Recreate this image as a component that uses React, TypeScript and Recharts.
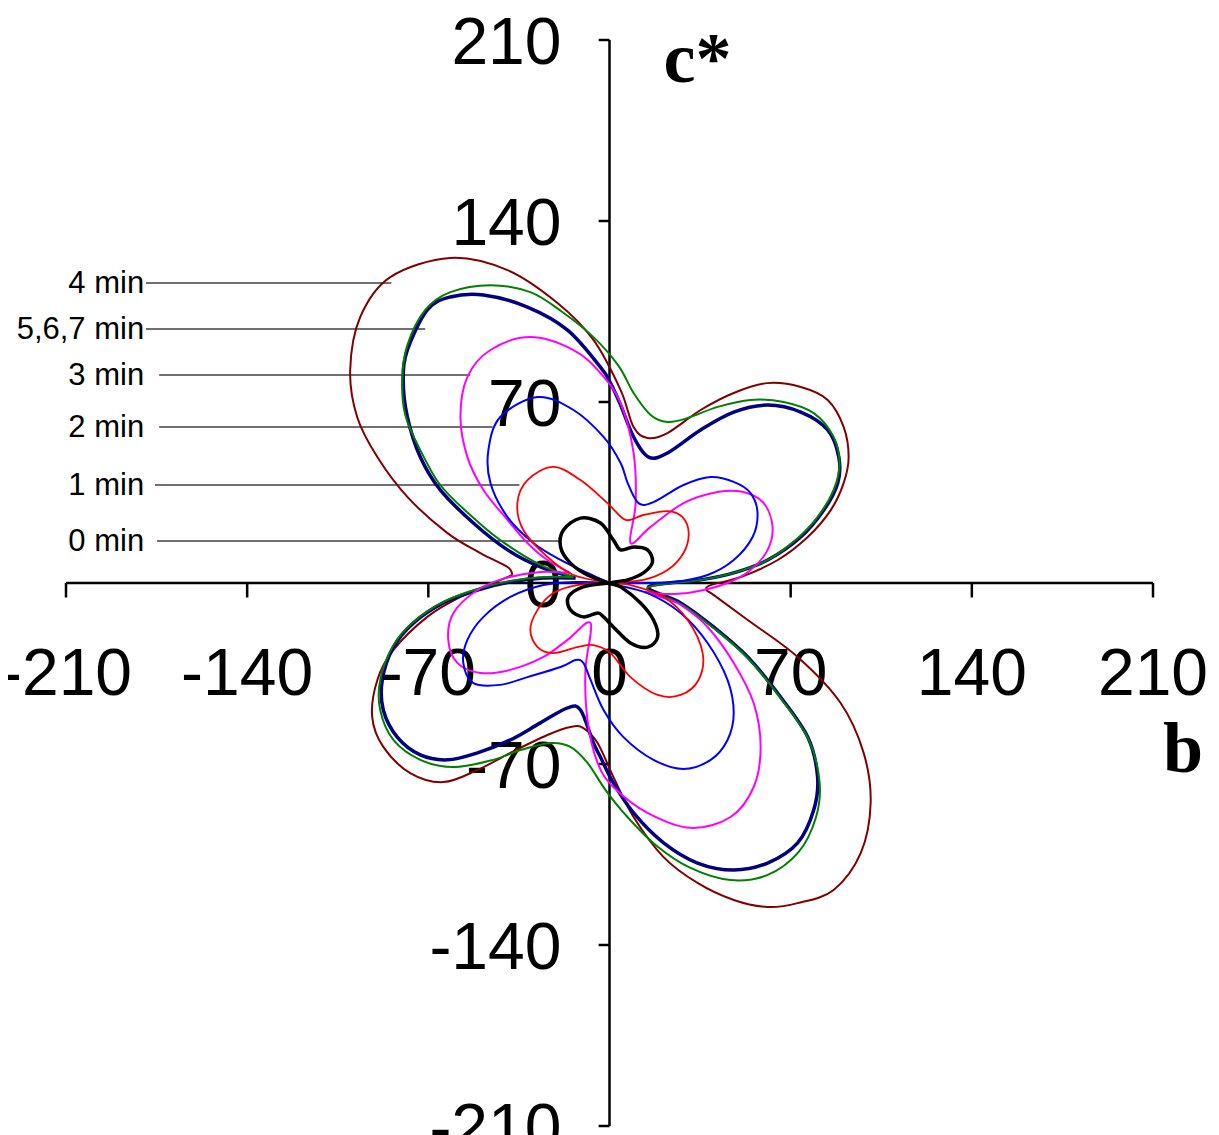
import React from 'react';
import { ScatterChart, Scatter, XAxis, YAxis, ReferenceLine, ReferenceDot } from 'recharts';

// b / c* coordinates, one closed loop per heating time
const min0: [number, number][] = [
  [0, 0], [-8.5, 3.1], [-15.1, 7.7], [-18.9, 13.9], [-17.8, 20.5], [-11.2, 25.1], [-3.5, 23.2], [1.5, 16.6],
  [4.3, 12.8], [9.3, 13.9], [14.7, 12.8], [16.6, 8.1], [13.1, 3.9], [7.0, 1.2], [0, 0],
  [4.3, -1.5], [12.0, -7.7], [17.0, -14.3], [18.6, -20.9], [14.7, -24.8], [8.1, -23.2], [1.5, -17.0],
  [-2.3, -13.1], [-4.6, -11.6], [-10.1, -13.1], [-15.1, -10.4], [-15.9, -5.4], [-10.1, -1.5], [0, 0],
];

const min1: [number, number][] = [
  [0, 0], [-13.9, 3.1], [-24.0, 10.1], [-33.3, 20.5], [-35.6, 30.9], [-31.7, 39.8], [-21.7, 44.9], [-11.2, 39.8],
  [-0.8, 30.9], [6.2, 24.4], [13.1, 26.3], [22.4, 27.8], [28.2, 25.5], [30.6, 19.3], [28.6, 11.6], [22.4, 5.0],
  [13.1, 1.2], [0, 0],
  [8.1, -0.8], [20.9, -5.4], [30.2, -14.3], [36.0, -27.1], [34.4, -37.5], [27.5, -43.3], [18.6, -43.3],
  [8.1, -36.4], [0.4, -27.1], [-6.2, -24.0], [-12.4, -24.8], [-21.7, -27.1], [-27.8, -24.8], [-30.6, -18.2],
  [-27.8, -10.4], [-21.7, -3.9], [-12.4, -0.8], [0, 0],
];

const min2: [number, number][] = [
  [0, 0], [-8.5, 3.9], [-18.9, 8.9], [-29.4, 15.5], [-39.4, 25.5], [-46.0, 38.7], [-46.8, 51.4], [-42.2, 64.2],
  [-27.8, 71.9], [-13.9, 66.9], [-2.3, 56.5], [4.3, 46.4], [7.0, 38.7], [11.2, 30.9], [17.0, 31.3], [28.6, 37.9],
  [39.1, 41.0], [48.0, 39.1], [54.5, 34.8], [57.2, 27.1], [55.3, 17.8], [48.0, 8.9], [37.9, 3.1], [24.8, 0.4],
  [9.3, 0], [0, 0],
  [14.7, -3.9], [27.5, -11.6], [37.9, -23.2], [45.6, -37.5], [48.0, -50.3], [45.6, -60.7], [39.1, -68.4],
  [28.6, -71.9], [17.0, -68.4], [5.4, -59.6], [-2.3, -49.1], [-7.3, -37.5], [-10.1, -30.9], [-13.1, -29.8],
  [-18.9, -32.5], [-31.7, -36.4], [-42.2, -39.4], [-52.6, -38.7], [-56.5, -30.9], [-54.9, -22.0], [-48.7, -13.1],
  [-38.3, -5.4], [-25.5, -0.8], [-12.4, 0.4], [0, 0],
];

const min3: [number, number][] = [
  [-15.1, 3.9], [-24.0, 8.9], [-31.7, 15.5], [-39.4, 24.4], [-48.7, 36.0], [-54.9, 48.7], [-57.6, 64.2],
  [-54.9, 79.7], [-46.0, 90.1], [-30.6, 95.1], [-13.9, 90.1], [-3.5, 81.2], [4.3, 69.6], [9.3, 50.3],
  [10.1, 30.9], [8.1, 15.5], [15.9, 21.7], [28.6, 30.9], [41.8, 35.2], [51.8, 35.2], [59.6, 30.9], [63.0, 21.7],
  [61.1, 12.8], [54.5, 5.0], [45.6, 0], [32.5, -3.5], [22.4, -4.3], [13.9, -3.5], [19.7, -5.4], [27.5, -8.5],
  [37.9, -17.0], [48.0, -30.9], [55.7, -46.4], [58.4, -63.4], [55.7, -78.9], [46.8, -90.5], [31.3, -94.7],
  [14.7, -88.9], [1.5, -78.9], [-4.6, -69.6], [-8.5, -53.0], [-9.3, -33.6], [-7.3, -15.5], [-16.2, -22.0],
  [-25.5, -28.6], [-38.3, -33.6], [-49.9, -34.8], [-58.8, -30.9], [-62.3, -22.0], [-60.3, -11.6], [-51.0, -2.7],
  [-40.2, 1.9], [-26.7, 4.3], [-15.1, 3.9],
];

const min4: [number, number][] = [
  [-37.5, 3.1], [-39.4, 6.2], [-49.9, 11.6], [-62.6, 19.3], [-78.1, 33.3], [-89.7, 48.7], [-97.5, 64.2],
  [-100.2, 82.4], [-96.3, 102.9], [-84.7, 118.3], [-61.5, 125.7], [-39.4, 121.0], [-20.1, 108.3], [-6.2, 94.0],
  [4.3, 74.6], [9.3, 60.3], [14.7, 56.1], [22.4, 58.0], [35.2, 66.9], [48.0, 73.5], [61.1, 77.3], [73.9, 75.8],
  [84.3, 70.8], [90.5, 60.3], [92.4, 48.7], [90.5, 38.7], [85.5, 28.2], [76.6, 17.8], [65.0, 8.9], [50.7, 2.3],
  [39.1, -0.8], [37.5, -2.7], [40.2, -4.6], [53.4, -14.3], [72.7, -28.6], [89.3, -46.4], [98.2, -65.7],
  [100.9, -85.1], [97.1, -104.4], [86.6, -118.7], [72.7, -123.8], [61.1, -125.3], [48.0, -122.6], [34.0, -116.0],
  [20.9, -106.0], [9.3, -90.5], [1.5, -75.0], [-4.6, -61.9], [-10.1, -56.1], [-15.1, -55.7], [-24.0, -58.8],
  [-38.3, -65.7], [-51.0, -72.3], [-64.2, -77.0], [-77.0, -73.5], [-87.4, -63.4], [-91.7, -51.8], [-89.7, -37.5],
  [-83.5, -25.9], [-70.4, -13.1], [-57.6, -5.4], [-44.9, 0], [-37.5, 3.1],
];

const min5to7Navy: [number, number][] = [
  [-13.1, 1.9], [-26.7, 6.2], [-39.4, 12.8], [-52.6, 23.2], [-65.4, 36.0], [-73.1, 48.7], [-78.1, 64.2],
  [-79.7, 78.5], [-78.1, 90.1], [-70.4, 105.6], [-61.5, 110.6], [-48.7, 111.4], [-31.7, 106.7], [-16.2, 97.8],
  [-3.5, 83.5], [0.4, 77.3], [4.3, 68.8], [9.3, 56.5], [15.1, 48.7], [22.4, 50.3], [35.2, 59.2], [48.0, 66.1],
  [61.1, 68.8], [73.9, 66.1], [84.3, 59.2], [88.6, 48.7], [88.2, 38.7], [82.8, 28.2], [73.9, 17.8], [61.1, 8.9],
  [48.0, 3.9], [35.2, 1.2], [15.1, -1.5], [27.5, -7.7], [40.2, -17.0], [53.4, -28.6], [66.1, -44.1],
  [76.6, -59.6], [80.4, -75.0], [78.9, -87.8], [72.7, -100.5], [61.1, -108.3], [48.0, -111.0], [34.0, -108.3],
  [20.9, -100.5], [9.3, -88.9], [1.5, -77.3], [-3.5, -67.3], [-6.2, -61.9], [-11.2, -49.1], [-16.2, -48.3],
  [-26.7, -54.1], [-38.3, -60.7], [-51.0, -65.7], [-62.6, -68.4], [-73.1, -66.5], [-82.0, -59.6], [-87.4, -49.1],
  [-87.8, -37.5], [-83.5, -24.8], [-75.8, -15.5], [-64.2, -7.7], [-51.0, -2.7], [-38.3, 0.4], [-25.5, 1.9],
  [-13.1, 1.9],
];

const min5to7Green: [number, number][] = [
  [-13.9, 2.3], [-26.7, 7.0], [-42.2, 16.6], [-53.8, 26.3], [-65.4, 37.9], [-73.1, 51.4], [-78.9, 65.0],
  [-80.1, 78.5], [-78.1, 92.0], [-71.2, 105.6], [-61.5, 112.5], [-46.0, 115.2], [-30.6, 112.5], [-18.5, 105.0],
  [-6.2, 95.1], [3.5, 84.0], [9.3, 73.5], [15.9, 65.0], [22.4, 62.3], [30.2, 63.8], [41.8, 68.1], [54.5, 70.8],
  [67.3, 70.0], [78.9, 65.7], [86.6, 56.5], [88.9, 46.4], [86.6, 36.0], [80.4, 25.5], [71.9, 16.6], [61.1, 8.9],
  [48.0, 3.9], [35.2, 1.2], [14.7, -1.9], [27.5, -8.1], [40.2, -17.4], [53.4, -29.0], [66.1, -44.5],
  [77.0, -60.7], [81.2, -77.3], [79.7, -90.9], [73.1, -104.0], [61.1, -112.9], [46.8, -114.9], [31.3, -110.2],
  [17.8, -101.3], [6.2, -89.7], [-1.5, -80.1], [-8.5, -69.6], [-15.1, -63.4], [-22.8, -61.9], [-34.4, -64.6],
  [-44.9, -68.4], [-60.3, -71.2], [-73.1, -68.4], [-83.5, -60.7], [-88.6, -49.1], [-88.6, -37.5], [-83.9, -24.8],
  [-75.8, -15.1], [-64.2, -7.3], [-51.0, -2.3], [-38.3, 0.8], [-25.5, 2.3], [-13.9, 2.3],
];

const axisTicks = [-210, -140, -70, 0, 70, 140, 210];

const calloutLabels = ['4 min', '5,6,7 min', '3 min', '2 min', '1 min', '0 min'];

const toPoints = (arr: [number, number][]) => arr.map(([b, c]) => ({ b, c }));

// drawn in this order, last one on top
const series = [
  { key: 'min4', data: min4, color: '#800000', width: 2 },
  { key: 'min5to7Navy', data: min5to7Navy, color: '#000080', width: 3.5 },
  { key: 'min5to7Green', data: min5to7Green, color: '#008000', width: 2 },
  { key: 'min3', data: min3, color: '#FF00FF', width: 2 },
  { key: 'min2', data: min2, color: '#0000FF', width: 2 },
  { key: 'min1', data: min1, color: '#FF0000', width: 1.8 },
  { key: 'min0', data: min0, color: '#000000', width: 3.5 },
];

// leader lines of the callouts, in chart units
const callouts = [
  { y: 116.0, from: -179.1, to: -84.3 },
  { y: 98.2, from: -179.1, to: -71.2 },
  { y: 80.4, from: -174.0, to: -53.8 },
  { y: 60.3, from: -174.0, to: -45.2 },
  { y: 37.9, from: -175.6, to: -34.8 },
  { y: 16.2, from: -174.8, to: -19.3 },
];

// Catmull-Rom through every point, so loops keep their shape
const smoothCurve = (context: any) => {
  let pts: number[][] = [];
  return {
    areaStart() {},
    areaEnd() {},
    lineStart() {
      pts = [];
    },
    point(x: number, y: number) {
      pts.push([x, y]);
    },
    lineEnd() {
      if (!pts.length) return;
      context.moveTo(pts[0][0], pts[0][1]);
      for (let i = 0; i < pts.length - 1; i++) {
        const p0 = pts[i - 1] || pts[i];
        const p1 = pts[i];
        const p2 = pts[i + 1];
        const p3 = pts[i + 2] || p2;
        context.bezierCurveTo(
          p1[0] + (p2[0] - p0[0]) / 6, p1[1] + (p2[1] - p0[1]) / 6,
          p2[0] - (p3[0] - p1[0]) / 6, p2[1] - (p3[1] - p1[1]) / 6,
          p2[0], p2[1]
        );
      }
    },
  };
};

const SANS = '"Liberation Sans", Arial, sans-serif';
const SERIF = '"Liberation Serif", "Times New Roman", serif';

const noMarker = () => <g />;

const App = () => {
  return (
    <ScatterChart width={1203} height={1127} margin={{ top: 32, right: 58, bottom: 9, left: 58 }}>
      <XAxis type="number" dataKey="b" domain={[-210, 210]} ticks={axisTicks} allowDataOverflow hide />
      <YAxis type="number" dataKey="c" domain={[-210, 210]} ticks={axisTicks} allowDataOverflow hide />

      {axisTicks.map((v) => (
        <ReferenceDot
          key={`xl${v}`}
          x={v}
          y={0}
          ifOverflow="visible"
          shape={(p: any) => (
            <text x={p.cx} y={p.cy + 112} textAnchor="middle" fontSize={66} fontFamily={SANS} fill="#000">
              {v}
            </text>
          )}
        />
      ))}
      {axisTicks.map((v) => (
        <ReferenceDot
          key={`yl${v}`}
          x={0}
          y={v}
          ifOverflow="visible"
          shape={(p: any) => (
            <text x={p.cx - 48} y={p.cy + 24} textAnchor="end" fontSize={66} fontFamily={SANS} fill="#000">
              {v}
            </text>
          )}
        />
      ))}

      <ReferenceLine segment={[{ x: -210, y: 0 }, { x: 210, y: 0 }]} stroke="#000" strokeWidth={2.5} ifOverflow="visible" />
      <ReferenceLine segment={[{ x: 0, y: -210 }, { x: 0, y: 210 }]} stroke="#000" strokeWidth={2.5} ifOverflow="visible" />
      {axisTicks.filter((v) => v !== 0).map((v) => (
        <ReferenceLine key={`xt${v}`} segment={[{ x: v, y: 0 }, { x: v, y: -5.6 }]} stroke="#000" strokeWidth={2.5} ifOverflow="visible" />
      ))}
      {axisTicks.filter((v) => v !== 0).map((v) => (
        <ReferenceLine key={`yt${v}`} segment={[{ x: -4.2, y: v }, { x: 0, y: v }]} stroke="#000" strokeWidth={2.5} ifOverflow="visible" />
      ))}

      {callouts.map((c, i) => (
        <ReferenceLine
          key={`cl${i}`}
          segment={[{ x: c.from, y: c.y }, { x: c.to, y: c.y }]}
          stroke="#404040"
          strokeWidth={1.5}
          ifOverflow="visible"
        />
      ))}
      {callouts.map((c, i) => (
        <ReferenceDot
          key={`ct${i}`}
          x={-179.8}
          y={c.y}
          ifOverflow="visible"
          shape={(p: any) => (
            <text x={p.cx} y={p.cy + 10} textAnchor="end" fontSize={31} fontFamily={SANS} fill="#000">
              {calloutLabels[i]}
            </text>
          )}
        />
      ))}

      <ReferenceDot
        x={0}
        y={210}
        ifOverflow="visible"
        shape={(p: any) => (
          <text x={p.cx + 54} y={p.cy + 42} fontSize={72} fontWeight="bold" fontFamily={SERIF} fill="#000">
            c*
          </text>
        )}
      />
      <ReferenceDot
        x={210}
        y={0}
        ifOverflow="visible"
        shape={(p: any) => (
          <text x={p.cx + 10} y={p.cy + 189} fontSize={72} fontWeight="bold" fontFamily={SERIF} fill="#000">
            b
          </text>
        )}
      />

      {series.map((s) => (
        <Scatter
          key={s.key}
          name={s.key}
          data={toPoints(s.data)}
          line={{ stroke: s.color, strokeWidth: s.width }}
          lineJointType={smoothCurve as any}
          shape={noMarker}
          fill={s.color}
          isAnimationActive={false}
        />
      ))}
    </ScatterChart>
  );
};

export default App;
